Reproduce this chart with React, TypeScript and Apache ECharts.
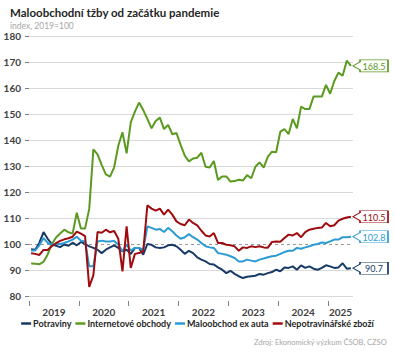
import React, { useEffect, useRef } from 'react';
import * as echarts from 'echarts';

const chartTitle = 'Maloobchodní tžby od začátku pandemie';
const chartSubtitle = 'index, 2019=100';
const sourceNote = 'Zdroj: Ekonomický výzkum ČSOB, CZSO';
const firstYear = 2019;
const yearLabels = ['2019', '2020', '2021', '2022', '2023', '2024', '2025'];
const seriesNames = ['Potraviny', 'Internetové obchody', 'Maloobchod ex auta', 'Nepotravinářské zboží'];

const potraviny = [
  98.0, 97.8, 100.5, 104.6, 102.0, 100.0, 99.3, 98.8, 99.8, 99.3, 100.5, 99.5,
  100.8, 100.0, 99.1, 98.5, 97.8, 96.5, 97.8, 98.7, 99.5, 98.5, 97.2, 97.8,
  96.2, 98.5, 98.5, 95.9, 100.0, 99.7, 98.7, 98.5, 98.7, 99.5, 99.7, 99.1,
  97.8, 96.2, 97.4, 96.5, 94.9, 94.0, 93.3, 92.3, 92.1, 91.0, 90.1, 88.8,
  89.7, 88.5, 87.6, 86.9, 87.4, 87.6, 87.8, 88.5, 88.2, 88.8, 89.2, 90.1,
  89.5, 91.0, 90.8, 91.4, 90.1, 91.8, 90.8, 91.4, 90.5, 90.1, 90.8, 91.8,
  91.4, 90.8, 91.0, 92.6, 90.5, 90.7,
];
const internetoveObchody = [
  92.5, 92.4, 92.2, 93.2, 96.0, 100.0, 102.5, 104.0, 105.5, 104.5, 104.0, 112.0,
  106.0, 106.0, 113.5, 136.4, 134.5, 130.4, 126.8, 125.9, 129.5, 137.8, 143.0, 134.9,
  146.8, 150.9, 154.4, 151.5, 148.1, 144.5, 147.3, 148.6, 144.2, 145.8, 142.2, 142.7,
  138.1, 134.0, 131.8, 132.9, 133.2, 135.1, 129.7, 129.4, 131.9, 124.6, 126.0, 126.0,
  124.0, 124.2, 124.7, 124.4, 126.5, 125.3, 129.7, 131.4, 129.4, 133.6, 135.5, 135.3,
  143.2, 144.2, 142.3, 148.1, 144.5, 152.8, 151.9, 151.9, 156.7, 156.7, 156.7, 161.2,
  157.8, 162.7, 165.9, 164.7, 170.5, 168.5,
];
const maloobchodExAuta = [
  97.5, 97.5, 99.5, 102.3, 100.4, 99.7, 100.0, 100.0, 100.4, 101.0, 101.7, 102.8,
  101.3, 101.0, 91.4, 91.4, 101.0, 101.3, 101.0, 101.0, 101.2, 99.8, 97.2, 99.7,
  97.5, 98.5, 98.5, 97.8, 106.8, 106.2, 105.5, 105.8, 104.6, 106.2, 104.9, 103.3,
  102.0, 102.6, 103.8, 102.6, 101.7, 100.4, 99.1, 98.7, 98.5, 96.5, 96.2, 95.9,
  95.3, 94.6, 93.3, 93.3, 94.0, 93.6, 93.3, 94.0, 94.4, 94.9, 95.3, 95.5,
  96.2, 96.9, 97.4, 97.4, 98.5, 98.2, 98.7, 99.1, 99.7, 100.0, 100.6, 100.4,
  101.0, 101.7, 101.7, 102.6, 102.6, 102.8,
];
const nepotravinarskeZbozi = [
  96.4, 96.2, 95.8, 97.7, 97.7, 99.2, 100.3, 101.2, 101.8, 102.2, 102.8, 104.8,
  104.0, 103.0, 83.5, 88.0, 104.6, 104.3, 105.5, 104.5, 105.0, 102.0, 89.5, 106.8,
  90.8, 96.2, 96.5, 97.2, 114.9, 113.6, 112.8, 113.6, 111.3, 113.2, 111.3, 108.7,
  107.7, 107.2, 109.4, 108.1, 107.2, 105.1, 103.3, 102.9, 104.2, 100.4, 100.4, 99.7,
  99.5, 99.1, 97.4, 98.7, 98.5, 99.1, 98.8, 99.1, 98.7, 98.6, 100.8, 101.0,
  100.9, 102.3, 103.6, 103.3, 104.2, 102.6, 104.6, 105.5, 105.9, 106.2, 106.3, 108.1,
  106.8, 107.2, 109.0, 109.7, 110.2, 110.5,
];

const seriesValues = [potraviny, internetoveObchody, maloobchodExAuta, nepotravinarskeZbozi];
const seriesColors = ['#173a66', '#5b9a21', '#2c9bd3', '#9e0c10'];
const FONT = 'Lato, "Noto Sans", sans-serif';

export default function App() {
  const ref = useRef<HTMLDivElement>(null);
  useEffect(() => {
    if (!ref.current) return;
    const chart = echarts.init(ref.current, null, { renderer: 'svg' });
    const nMonths = potraviny.length;
    const calloutPath = 'path://M0,6 L7,2 L7,0 L35,0 L35,12 L7,12 L7,10 Z';

    const series = seriesValues.map((vals, si) => {
      const last = vals[vals.length - 1];
      return {
        name: seriesNames[si],
        type: 'line',
        data: vals.map((v, i) => [i + 0.5, v]),
        symbol: 'none',
        lineStyle: { width: 2, color: seriesColors[si] },
        itemStyle: { color: seriesColors[si] },
        z: 3 + si,
        markPoint: {
          symbol: calloutPath,
          symbolSize: [35, 12],
          symbolKeepAspect: false,
          symbolOffset: [17.5, 0],
          itemStyle: { color: '#ffffff', borderColor: seriesColors[si], borderWidth: 1 },
          label: {
            show: true,
            position: 'inside',
            offset: [3.5, 0.5],
            color: seriesColors[si],
            fontFamily: FONT,
            fontSize: 9,
            formatter: () => last.toFixed(1),
          },
          data: [{ coord: [nMonths, last], value: last }],
          silent: true,
        },
        markLine: si === 0 ? {
          silent: true,
          symbol: 'none',
          label: { show: false },
          lineStyle: { type: [3, 3], color: '#9a9a9a', width: 1 },
          data: [{ yAxis: 100 }],
          z: 2,
        } : undefined,
      };
    });

    const gridColors = ['#d9d9d9', '#d9d9d9', 'rgba(0,0,0,0)', '#d9d9d9', '#d9d9d9', '#d9d9d9', '#d9d9d9', '#d9d9d9', '#d9d9d9', '#d9d9d9', '#d9d9d9'];

    chart.setOption({
      animation: false,
      textStyle: { fontFamily: FONT },
      title: {
        text: chartTitle,
        subtext: chartSubtitle,
        left: 5,
        top: 1,
        itemGap: 3,
        textStyle: { fontFamily: FONT, fontSize: 11.5, fontWeight: 'bold', color: '#262626' },
        subtextStyle: { fontFamily: FONT, fontSize: 8.5, color: '#a6a6a6' },
      },
      grid: { left: 29, right: 42, top: 36, bottom: 63, containLabel: false },
      xAxis: {
        type: 'value',
        min: 0,
        max: nMonths,
        offset: 5,
        splitLine: { show: false },
        axisLine: { show: false },
        axisTick: {
          show: true,
          length: 5,
          lineStyle: { color: '#808080', width: 1 },
          customValues: yearLabels.map((_, k) => k * 12),
        },
        axisLabel: {
          margin: 6,
          color: '#404040',
          fontFamily: FONT,
          fontSize: 10,
          fontWeight: 'bold',
          customValues: yearLabels.map((_, k) => Math.min(k * 12 + 6, (k * 12 + nMonths) / 2)),
          formatter: (v: number) => String(firstYear + Math.floor(v / 12)),
        },
      },
      yAxis: {
        type: 'value',
        min: 80,
        max: 180,
        interval: 10,
        axisLine: { show: false },
        axisTick: { show: true, length: 4, lineStyle: { color: '#808080' } },
        axisLabel: { margin: 8, color: '#404040', fontFamily: FONT, fontSize: 10, fontWeight: 'bold' },
        splitLine: { show: true, lineStyle: { color: gridColors, width: 1 } },
      },
      legend: {
        data: seriesNames,
        top: 319,
        left: 'center',
        width: 395,
        padding: 0,
        icon: 'rect',
        itemWidth: 10,
        itemHeight: 2.5,
        itemGap: 4,
        textStyle: { fontFamily: FONT, fontSize: 9, fontWeight: 'bold', color: '#262626', padding: [0, 0, 0, -3] },
      },
      graphic: [
        {
          type: 'text',
          right: 8,
          top: 338,
          style: { text: sourceNote, fontFamily: FONT, fontSize: 7.5, fill: '#a6a6a6' },
        },
      ],
      series,
    });
    return () => chart.dispose();
  }, []);
  return <div ref={ref} style={{ position: 'absolute', left: 0, top: 0, width: 395, height: 359 }} />;
}
